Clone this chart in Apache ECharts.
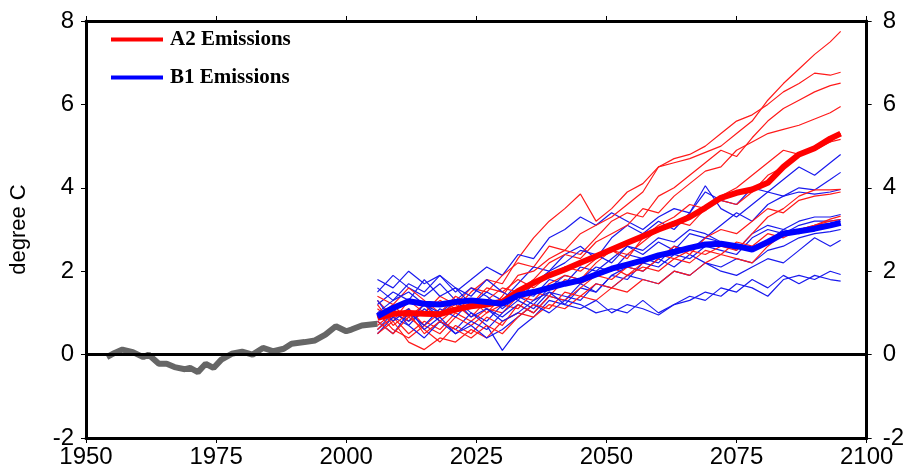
<!DOCTYPE html>
<html>
<head>
<meta charset="utf-8">
<script src="https://cdn.jsdelivr.net/npm/echarts@6/dist/echarts.min.js"></script>
<style>
html,body{margin:0;padding:0;background:#fff;}
#chart{width:907px;height:471px;}
</style>
</head>
<body>
<div id="chart"></div>
<script>
// ---- observed record ----
const obsYears = [1954,1955.5,1957,1959,1961,1962,1964,1965.5,1967,1969,1970,1971.5,1973,1974.5,1976,1978,1980,1982,1984,1986,1988,1989.5,1992,1994,1996,1998,2000,2001,2003,2006];
const obsValues = [-0.06,0.04,0.12,0.06,-0.06,0.0,-0.22,-0.22,-0.3,-0.35,-0.32,-0.42,-0.22,-0.32,-0.12,0.02,0.07,0.0,0.16,0.08,0.14,0.26,0.3,0.34,0.48,0.68,0.56,0.6,0.7,0.74];

// ---- model years ----
const runYears = [2006,2009,2012,2015,2018,2021,2024,2027,2030,2033,2036,2039,2042,2045,2048,2051,2054,2057,2060,2063,2066,2069,2072,2075,2078,2081,2084,2087,2090,2093,2095];

// ---- A2 individual runs ----
const a2Run1  = [0.9,1.2,0.8,1.0,1.3,1.1,1.5,1.8,1.7,2.3,2.8,3.2,3.5,3.85,3.2,3.5,3.9,4.1,4.5,4.6,4.7,4.85,5.0,5.3,5.6,6.1,6.5,6.85,7.2,7.5,7.75];
const a2Run2  = [1.1,0.8,1.3,1.0,1.4,1.2,1.6,1.5,1.9,2.2,2.1,2.6,2.5,2.9,3.1,3.3,3.6,3.9,4.5,4.7,4.8,5.0,5.3,5.6,5.75,6.0,6.3,6.5,6.75,6.7,6.77];
const a2Run3  = [0.7,1.0,0.9,1.2,0.8,1.1,1.3,1.0,1.4,1.9,2.0,2.3,2.5,2.4,2.8,3.2,3.4,3.3,3.8,4.0,4.3,4.6,4.9,4.75,5.2,5.6,5.9,6.1,6.3,6.45,6.51];
const a2Run4  = [1.3,0.9,1.1,0.7,1.0,1.2,0.9,1.3,1.6,1.5,1.8,2.2,2.4,2.3,2.7,2.9,3.1,3.5,3.4,3.8,4.1,4.4,4.5,4.9,5.1,5.3,5.4,5.5,5.65,5.8,5.95];
const a2Run5  = [0.6,0.9,0.5,0.8,0.6,1.0,0.8,1.1,1.0,1.4,1.3,1.7,1.9,1.8,2.2,2.5,2.4,2.7,3.0,3.2,3.1,3.5,3.7,3.6,3.9,4.3,4.5,4.8,4.9,5.1,5.3];
const a2Run6  = [1.4,1.2,1.6,1.3,1.0,1.4,1.2,1.6,1.5,1.8,1.6,1.9,2.1,2.0,2.3,2.5,2.3,2.8,3.1,3.3,3.6,3.5,3.8,4.0,4.3,4.6,4.9,4.8,5.0,5.1,5.16];
const a2Run7  = [1.0,0.6,0.4,0.7,0.5,0.9,0.7,1.0,1.2,1.1,1.5,1.4,1.8,1.7,1.9,2.1,1.9,2.2,2.4,2.3,2.5,2.4,2.6,2.5,2.9,3.3,3.5,3.8,3.95,3.95,3.96];
const a2Run8  = [0.8,0.5,0.9,0.6,0.3,0.7,0.5,0.9,0.7,1.2,1.0,1.4,1.3,1.6,1.9,1.8,2.1,2.0,2.3,2.6,2.4,2.8,3.0,2.9,3.2,3.5,3.4,3.7,3.8,3.85,3.9];
const a2Run9  = [0.5,0.8,0.3,0.12,0.4,0.3,0.6,0.4,0.8,1.0,0.9,1.2,1.1,1.4,1.3,1.6,1.5,1.8,1.7,2.0,1.9,2.2,2.4,2.3,2.2,2.6,2.9,3.0,3.1,3.25,3.32];
const a2Run10 = [1.2,0.7,1.0,0.5,0.8,0.6,0.4,0.7,0.5,0.9,1.2,1.1,1.5,1.4,1.7,1.6,1.9,2.1,2.0,2.3,2.2,2.5,2.4,2.7,2.6,2.9,2.8,3.0,3.1,3.2,3.24];

// ---- B1 individual runs ----
const b1Run1  = [1.8,1.6,2.0,1.7,1.9,1.5,1.8,2.1,1.9,2.4,2.3,2.8,3.0,3.3,3.1,3.4,3.2,3.0,3.3,3.5,3.4,3.9,3.7,3.6,4.0,3.9,4.2,4.5,4.3,4.6,4.8];
const b1Run2  = [1.2,1.5,1.3,1.8,1.4,1.6,1.2,1.5,1.3,1.7,2.1,2.0,2.4,2.6,2.3,2.8,3.1,2.9,3.2,3.0,3.4,4.05,3.5,3.3,3.6,3.9,3.8,4.0,3.95,4.2,4.37];
const b1Run3  = [0.6,1.0,0.8,1.2,0.9,1.3,1.0,0.8,1.2,1.5,1.4,1.8,1.7,2.1,2.0,2.3,2.6,2.4,2.7,2.5,2.9,2.8,3.1,3.4,3.2,3.6,3.8,3.9,3.85,3.9,3.96];
const b1Run4  = [1.5,1.9,1.6,1.4,1.7,1.3,1.6,1.4,1.1,1.4,1.2,1.6,1.9,1.8,2.1,2.0,2.4,2.3,2.2,2.6,2.5,2.8,2.7,2.5,2.9,3.1,3.0,3.2,3.3,3.3,3.36];
const b1Run5  = [0.5,0.9,0.7,1.1,0.8,0.6,1.0,0.7,0.1,0.6,0.9,1.3,1.2,1.6,1.5,1.9,1.8,2.2,2.1,2.4,2.3,2.6,2.5,2.4,2.8,3.0,2.9,3.1,3.2,3.2,3.24];
const b1Run6  = [1.0,1.3,1.7,1.5,1.9,1.6,1.4,1.8,1.5,1.3,1.7,2.0,2.2,2.5,2.4,2.2,2.6,2.5,2.8,2.7,3.0,2.9,2.7,2.6,2.5,2.7,3.0,2.9,3.1,3.15,3.2];
const b1Run7  = [0.8,0.5,1.0,0.7,1.1,0.9,1.3,1.1,0.9,1.2,1.0,1.4,1.3,1.7,1.5,1.9,2.1,2.0,2.3,2.1,2.4,2.2,2.1,2.3,2.2,2.5,2.6,2.8,2.9,2.95,3.0];
const b1Run8  = [1.3,0.8,1.1,0.6,0.9,0.5,0.8,0.6,1.0,1.3,1.1,1.5,1.4,1.3,1.7,1.6,1.9,1.8,1.7,2.0,1.9,2.2,2.0,1.9,2.1,2.3,2.2,2.5,2.8,2.6,2.74];
const b1Run9  = [0.9,1.1,0.7,0.4,0.8,0.5,0.7,0.4,0.6,0.9,1.2,1.0,1.3,1.2,1.0,1.1,1.0,1.3,1.0,1.2,1.3,1.5,1.4,1.7,1.6,1.4,1.8,1.9,1.8,2.0,1.92];
const b1Run10 = [1.6,1.3,1.5,1.2,1.0,1.3,0.9,1.1,0.8,1.0,1.3,1.5,1.2,1.1,1.3,1.0,1.2,1.1,0.95,1.2,1.4,1.3,1.6,1.5,1.8,1.6,1.9,1.7,1.9,1.8,1.76];

// ---- ensemble means ----
const a2Mean = [0.88,0.98,1.0,0.98,0.97,1.08,1.16,1.2,1.27,1.52,1.72,1.9,2.04,2.2,2.36,2.52,2.68,2.84,3.0,3.14,3.3,3.52,3.76,3.88,3.96,4.12,4.5,4.8,4.95,5.18,5.3];
const b1Mean = [0.92,1.12,1.28,1.22,1.2,1.26,1.3,1.26,1.22,1.42,1.5,1.6,1.7,1.78,1.92,2.06,2.16,2.26,2.38,2.46,2.56,2.64,2.66,2.6,2.52,2.7,2.9,2.96,3.02,3.1,3.16];

const a2Runs = [a2Run1,a2Run2,a2Run3,a2Run4,a2Run5,a2Run6,a2Run7,a2Run8,a2Run9,a2Run10];
const b1Runs = [b1Run1,b1Run2,b1Run3,b1Run4,b1Run5,b1Run6,b1Run7,b1Run8,b1Run9,b1Run10];

const xTicks = [1950,1975,2000,2025,2050,2075,2100];
const yTicks = [-2,0,2,4,6,8];

const legendNames = ['A2 Emissions','B1 Emissions'];

function pairs(xs, ys){ return xs.map((x,i)=>[x, ys[i]]); }

const chart = echarts.init(document.getElementById('chart'), null, {renderer:'canvas'});

const series = [];
series.push({
  name:'Observed', type:'line', data: pairs(obsYears, obsValues),
  showSymbol:false, symbol:'none', lineStyle:{color:'#666666', width:6}, itemStyle:{color:'#666666'},
  z:3, silent:true,
  markLine:{ silent:true, symbol:['none','none'], label:{show:false},
    lineStyle:{color:'#000', width:3, type:'solid'}, data:[{yAxis:0}] }
});
const n = Math.max(a2Runs.length, b1Runs.length);
for (let i=0;i<n;i++){
  if (a2Runs[i]) series.push({ name:'A2 run '+(i+1), type:'line', data:pairs(runYears, a2Runs[i]),
    symbol:'none', lineStyle:{color:'#ff1a1a', width:1.2}, z:4, silent:true });
  if (b1Runs[i]) series.push({ name:'B1 run '+(i+1), type:'line', data:pairs(runYears, b1Runs[i]),
    symbol:'none', lineStyle:{color:'#1a1aee', width:1.2}, z:4, silent:true });
}
series.push({ name:legendNames[0], type:'line', data:pairs(runYears, a2Mean), symbol:'none',
  lineStyle:{color:'#ff0000', width:6}, itemStyle:{color:'#ff0000'}, z:6, silent:true });
series.push({ name:legendNames[1], type:'line', data:pairs(runYears, b1Mean), symbol:'none',
  lineStyle:{color:'#0000ff', width:6}, itemStyle:{color:'#0000ff'}, z:7, silent:true });

const labelFont = {color:'#000', fontSize:24, fontFamily:'"Liberation Sans", Arial, sans-serif'};

chart.setOption({
  animation:false,
  backgroundColor:'#fff',
  grid:{left:86, right:34, top:21, bottom:33, containLabel:false},
  legend:{
    data:legendNames, orient:'vertical', left:106, top:24, itemGap:17,
    itemWidth:52, itemHeight:4, icon:'rect',
    textStyle:{fontFamily:'"Liberation Serif", "Times New Roman", serif', fontWeight:'bold', fontSize:21, color:'#000', padding:[0,0,0,2]}
  },
  xAxis:[{
    type:'value', min:xTicks[0], max:xTicks[xTicks.length-1], interval:25, position:'bottom',
    axisLine:{show:true, onZero:false, lineStyle:{color:'#000', width:3}},
    axisTick:{show:true, inside:false, length:5, lineStyle:{color:'#000', width:1}},
    axisLabel:{...labelFont, margin:7, formatter:v=>String(v)},
    splitLine:{show:false}
  },{
    type:'value', min:xTicks[0], max:xTicks[xTicks.length-1], interval:25, position:'top',
    axisLine:{show:true, onZero:false, lineStyle:{color:'#000', width:3}},
    axisTick:{show:true, inside:false, length:5, lineStyle:{color:'#000', width:1}},
    axisLabel:{show:false}, splitLine:{show:false}
  }],
  yAxis:[{
    type:'value', min:yTicks[0], max:yTicks[yTicks.length-1], interval:2, position:'left',
    name:'degree C', nameLocation:'middle', nameGap:56, nameRotate:90,
    nameTextStyle:{color:'#000', fontSize:22, fontFamily:'"Liberation Sans", Arial, sans-serif'},
    axisLine:{show:true, onZero:false, lineStyle:{color:'#000', width:3}},
    axisTick:{show:true, inside:false, length:5, lineStyle:{color:'#000', width:1}},
    axisLabel:{...labelFont, margin:12},
    splitLine:{show:false}
  },{
    type:'value', min:yTicks[0], max:yTicks[yTicks.length-1], interval:2, position:'right',
    axisLine:{show:true, onZero:false, lineStyle:{color:'#000', width:3}},
    axisTick:{show:true, inside:false, length:5, lineStyle:{color:'#000', width:1}},
    axisLabel:{...labelFont, margin:16},
    splitLine:{show:false}
  }],
  series: series
});
</script>
</body>
</html>
